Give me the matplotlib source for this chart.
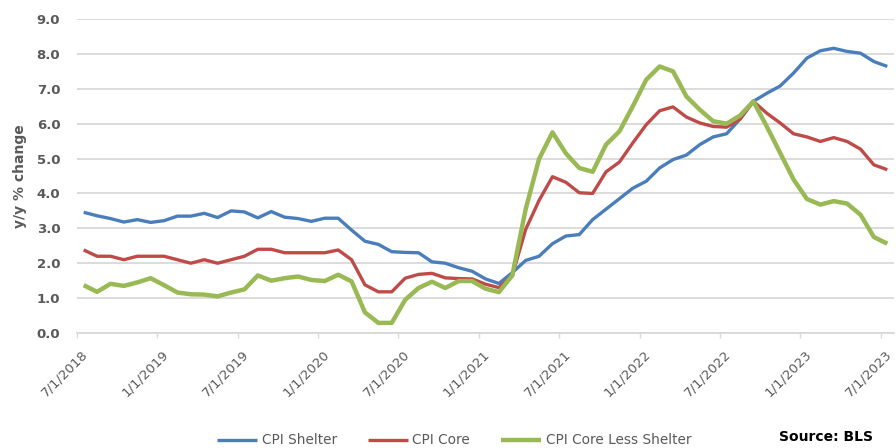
import numpy as np
import matplotlib
matplotlib.use("Agg")
import matplotlib.pyplot as plt
from matplotlib.transforms import ScaledTranslation

# Monthly y/y % change, Jul 2018 .. Jul 2023
cpi_shelter = [3.46, 3.36, 3.28, 3.18, 3.25, 3.17, 3.22, 3.35, 3.35, 3.43, 3.31, 3.50,
               3.47, 3.30, 3.48, 3.32, 3.28, 3.20, 3.29, 3.29, 2.95, 2.63, 2.54, 2.33,
               2.31, 2.30, 2.04, 2.00, 1.87, 1.77, 1.55, 1.42, 1.73, 2.08, 2.20, 2.56,
               2.78, 2.82, 3.25, 3.55, 3.85, 4.15, 4.35, 4.73, 4.97, 5.10, 5.40, 5.62,
               5.71, 6.13, 6.64, 6.87, 7.08, 7.45, 7.88, 8.09, 8.16, 8.07, 8.02, 7.78, 7.64]
cpi_core = [2.38, 2.20, 2.20, 2.10, 2.20, 2.20, 2.20, 2.10, 2.00, 2.10, 2.00, 2.10,
            2.20, 2.40, 2.40, 2.30, 2.30, 2.30, 2.30, 2.38, 2.10, 1.38, 1.18, 1.18,
            1.57, 1.68, 1.71, 1.58, 1.56, 1.55, 1.40, 1.30, 1.65, 2.97, 3.80, 4.48,
            4.32, 4.02, 4.00, 4.62, 4.90, 5.45, 5.97, 6.37, 6.48, 6.19, 6.02, 5.92,
            5.90, 6.13, 6.64, 6.30, 6.02, 5.71, 5.62, 5.49, 5.60, 5.49, 5.27, 4.82, 4.68]
cpi_core_less_shelter = [1.37, 1.18, 1.41, 1.35, 1.45, 1.57, 1.37, 1.16, 1.11, 1.10, 1.05, 1.16,
                         1.25, 1.65, 1.50, 1.57, 1.62, 1.52, 1.49, 1.67, 1.48, 0.59, 0.29, 0.29,
                         0.95, 1.29, 1.47, 1.29, 1.49, 1.49, 1.27, 1.17, 1.65, 3.55, 4.99, 5.75,
                         5.15, 4.73, 4.62, 5.40, 5.78, 6.50, 7.26, 7.64, 7.50, 6.78, 6.40, 6.07,
                         6.00, 6.23, 6.64, 5.92, 5.16, 4.40, 3.84, 3.68, 3.78, 3.71, 3.39, 2.75, 2.56]
tick_labels = ['7/1/2018', '1/1/2019', '7/1/2019', '1/1/2020', '7/1/2020', '1/1/2021',
               '7/1/2021', '1/1/2022', '7/1/2022', '1/1/2023', '7/1/2023']
series_names = ['CPI Shelter', 'CPI Core', 'CPI Core Less Shelter']

colors = ['#4A7EBB', '#BE4B48', '#98B954']
widths = [2.4, 2.4, 3.2]
gray = '#595959'

fig = plt.figure(figsize=(8.96, 4.48), dpi=100)
ax = fig.add_axes([77/896, 115/448, 817/896, 314/448])

x = np.arange(len(cpi_shelter))
for vals, name, c, lw in zip([cpi_shelter, cpi_core, cpi_core_less_shelter],
                             series_names, colors, widths):
    ax.plot(x, vals, color=c, lw=lw, label=name, solid_joinstyle='round',
            solid_capstyle='butt')

ax.set_xlim(-0.5, len(x) - 0.5)
ax.set_ylim(0, 9)
ax.set_yticks(np.arange(0, 9.01, 1.0))
ax.set_yticklabels([f'{v:.1f}' for v in np.arange(0, 9.01, 1.0)],
                   fontsize=9.5, fontweight='bold', color=gray)
ax.grid(axis='y', color='#D9D9D9', lw=1.3)
ax.set_axisbelow(True)
for s in ['top', 'right', 'left']:
    ax.spines[s].set_visible(False)
ax.spines['bottom'].set_color('#D9D9D9')
ax.spines['bottom'].set_linewidth(1.3)
ax.tick_params(axis='y', length=0, pad=12)
ax.tick_params(axis='x', length=3.5, width=1.0, color='#D9D9D9', pad=10)

tick_pos = np.arange(len(tick_labels)) * 6 - 0.5
ax.set_xticks(tick_pos)
ax.set_xticklabels(tick_labels, rotation=45, ha='right', va='center',
                   rotation_mode='anchor', fontsize=9.5, color=gray)
offset = ScaledTranslation(6.5/72, 0, fig.dpi_scale_trans)
for lab in ax.get_xticklabels():
    lab.set_transform(lab.get_transform() + offset)

ax.set_ylabel('y/y % change', fontsize=10, fontweight='bold', color=gray, labelpad=7)

leg = fig.legend(loc='center', bbox_to_anchor=(0.507, 0.017), ncol=3, frameon=False,
                 fontsize=9.8, handlelength=2.9, handletextpad=0.35, columnspacing=2.3,
                 borderpad=0)
for t in leg.get_texts():
    t.set_color(gray)

fig.text(873/896, 0.024, 'Source: BLS', ha='right', va='center', fontsize=10,
         fontweight='bold', color='black')

fig.savefig('out.png', dpi=100)
